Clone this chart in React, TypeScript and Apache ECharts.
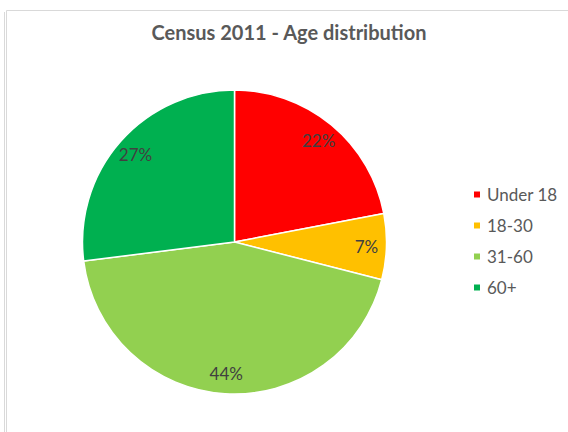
import React, { useEffect, useRef } from "react";
import * as echarts from "echarts";

const categories = ["Under 18", "18-30", "31-60", "60+"];
const values = [22, 7, 44, 27];
const colors = ["#FF0000", "#FFC000", "#92D050", "#00B050"];
const titleText = "Census 2011 - Age distribution";

export default function App() {
  const ref = useRef<HTMLDivElement>(null);
  useEffect(() => {
    document.body.style.margin = "0";
    const chart = echarts.init(ref.current!, null, { renderer: "svg" });
    const data = categories.map((name, i) => ({
      name,
      value: values[i],
      itemStyle: { color: colors[i] },
    }));
    chart.setOption({
      animation: false,
      backgroundColor: "#ffffff",
      title: {
        text: titleText,
        left: 289,
        top: 22,
        padding: 0,
        textAlign: "center",
        textStyle: {
          fontFamily: "Lato",
          fontWeight: "bold",
          fontSize: 20,
          color: "#595959",
        },
      },
      legend: {
        orient: "vertical",
        left: 472,
        top: 186,
        padding: 0,
        itemWidth: 8,
        itemHeight: 8,
        itemGap: 14,
        icon: "rect",
        data: categories,
        textStyle: {
          fontFamily: "Lato",
          fontSize: 17,
          color: "#595959",
          padding: [0, 0, 0, 1],
        },
      },
      graphic: [
        {
          type: "line",
          shape: { x1: 4.5, y1: 12, x2: 4.5, y2: 432 },
          style: { stroke: "#d9d9d9", lineWidth: 1 },
          silent: true,
        },
        {
          type: "line",
          shape: { x1: 6.5, y1: 10.5, x2: 6.5, y2: 432 },
          style: { stroke: "#d9d9d9", lineWidth: 1 },
          silent: true,
        },
        {
          type: "line",
          shape: { x1: 6.5, y1: 10.5, x2: 568, y2: 10.5 },
          style: { stroke: "#d9d9d9", lineWidth: 1 },
          silent: true,
        },
      ],
      series: [
        {
          type: "pie",
          center: [234.5, 242],
          radius: [0, 152],
          startAngle: 90,
          clockwise: true,
          label: { show: false },
          labelLine: { show: false },
          itemStyle: { borderColor: "#ffffff", borderWidth: 1.5 },
          emphasis: { disabled: true },
          data,
        },
        {
          type: "pie",
          center: [234.5, 242],
          radius: [106, 152],
          startAngle: 90,
          clockwise: true,
          silent: true,
          legendHoverLink: false,
          itemStyle: { color: "transparent", borderWidth: 0 },
          label: {
            show: true,
            position: "inside",
            formatter: "{d}%",
            fontFamily: "Lato",
            fontSize: 17,
            color: "#404040",
          },
          labelLine: { show: false },
          emphasis: { disabled: true },
          data: categories.map((name, i) => ({ name, value: values[i] })),
        },
      ],
    });
    return () => chart.dispose();
  }, []);
  return (
    <div
      ref={ref}
      style={{ position: "fixed", left: 0, top: 0, width: 568, height: 432 }}
    />
  );
}
